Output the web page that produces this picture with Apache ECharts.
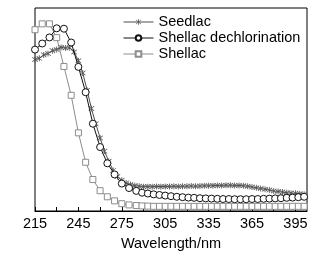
<!DOCTYPE html>
<html>
<head>
<meta charset="utf-8">
<script src="https://cdn.jsdelivr.net/npm/echarts@6/dist/echarts.min.js"></script>
<style>
html, body {margin: 0; padding: 0; background: #fff;}
#chart {width: 321px; height: 256px;}
</style>
</head>
<body>
<div id="chart"></div>
<script>
// 数据
var seedlacX = [215, 218, 221, 224, 227, 230, 233, 236, 239, 242, 245, 248, 251, 254, 257, 260, 263, 266, 269, 272,
    275, 278, 281, 284, 287, 290, 293, 296, 299, 302, 305, 308, 311, 314, 317, 320, 323, 326, 329, 332,
    335, 338, 341, 344, 347, 350, 353, 356, 359, 362, 365, 368, 371, 374, 377, 380, 383, 386, 389, 392,
    395, 398, 401];
var seedlacY = [74.6, 75.2, 76.9, 77.6, 79.0, 79.6, 80.6, 80.3, 80.4, 78.3, 74.0, 68.0, 59.5, 50.5, 43.0, 36.0, 29.5, 24.5, 20.0, 17.0,
    15.1, 13.8, 13.0, 12.5, 12.2, 12.0, 12.0, 12.0, 12.1, 12.0, 12.1, 12.1, 12.2, 12.1, 12.2, 12.2, 12.3, 12.2, 12.3, 12.4,
    12.4, 12.5, 12.6, 12.6, 12.7, 12.7, 12.6, 12.6, 12.4, 12.2, 11.8, 11.5, 11.1, 10.7, 10.3, 9.9, 9.6, 9.3, 9.0, 8.8,
    8.7, 8.5, 8.3];
var dechlorX = [215, 220, 225, 230, 235, 240, 245, 250, 255, 260, 265, 270, 275, 280, 285, 289, 293, 297, 301, 305,
    309, 313, 317, 321, 325, 329, 333, 337, 341, 345, 349, 353, 357, 361, 365, 369, 373, 377, 381, 385,
    389, 393, 397, 401];
var dechlorY = [79.5, 82.5, 85.5, 90.0, 89.8, 83.0, 71.0, 58.5, 43.0, 31.5, 23.5, 18.0, 13.5, 11.3, 9.9, 9.0, 8.6, 8.2, 7.9, 7.6,
    7.3, 7.0, 6.8, 6.6, 6.5, 6.3, 6.2, 6.1, 6.0, 5.9, 5.9, 5.8, 5.8, 5.8, 5.9, 5.9, 6.0, 6.1, 6.2, 6.3,
    6.5, 6.6, 6.8, 7.0];
var shellacX = [215, 220, 225, 230, 235, 240, 245, 250, 255, 260, 265, 270, 275, 280, 285, 289, 293, 297, 301, 305,
    309, 313, 317, 321, 325, 329, 333, 337, 341, 345, 349, 353, 357, 361, 365, 369, 373, 377, 381, 385,
    389, 393, 397, 401];
var shellacY = [89.3, 92.2, 92.2, 85.4, 71.2, 57.0, 38.5, 24.0, 15.5, 10.0, 7.0, 5.0, 3.6, 3.0, 2.7, 2.5, 2.4, 2.3, 2.3, 2.3,
    2.3, 2.3, 2.3, 2.3, 2.3, 2.3, 2.3, 2.3, 2.3, 2.3, 2.3, 2.3, 2.3, 2.3, 2.3, 2.3, 2.3, 2.3, 2.3, 2.3,
    2.3, 2.3, 2.3, 2.3];
var seriesNames = ['Seedlac', 'Shellac dechlorination', 'Shellac'];

function pairs(xs, ys) {
    var out = [];
    for (var i = 0; i < xs.length; i++) {
        out.push([xs[i], ys[i]]);
    }
    return out;
}

// 星号标记
var starSymbol = 'path://M4.4,0H5.6V10H4.4Z M0.8,1.6L1.6,0.8L9.2,8.4L8.4,9.2Z M8.4,0.8L9.2,1.6L1.6,9.2L0.8,8.4Z';
var font = 'Liberation Sans';

var myChart = echarts.init(document.getElementById('chart'));
var option = {
    animation: false,
    backgroundColor: '#fff',
    grid: {
        left: 35,
        top: 8,
        right: 14,
        bottom: 43,
        show: true,
        borderColor: '#000',
        borderWidth: 1
    },
    legend: {
        orient: 'vertical',
        left: 118,
        top: 9,
        itemWidth: 30,
        itemHeight: 7,
        itemGap: 0,
        lineStyle: {width: 1},
        textStyle: {fontFamily: font, fontSize: 14.5, color: '#000', lineHeight: 16},
        data: seriesNames
    },
    xAxis: {
        type: 'value',
        min: 215,
        max: 403,
        interval: 15,
        axisLine: {lineStyle: {color: '#000', width: 1}},
        axisTick: {inside: true, length: 4, lineStyle: {color: '#000'}},
        splitLine: {show: false},
        axisLabel: {
            fontFamily: font,
            fontSize: 14.5,
            color: '#000',
            margin: 5,
            showMaxLabel: false,
            formatter: function (v) {
                return (v - 215) % 30 === 0 ? String(v) : '';
            }
        },
        name: 'Wavelength/nm',
        nameLocation: 'middle',
        nameGap: 25,
        nameTextStyle: {fontFamily: font, fontSize: 14.5, color: '#000'}
    },
    yAxis: {
        type: 'value',
        min: 0,
        max: 100,
        axisLine: {show: false},
        axisTick: {show: false},
        axisLabel: {show: false},
        splitLine: {show: false}
    },
    series: [
        {
            name: seriesNames[0],
            type: 'line',
            data: pairs(seedlacX, seedlacY),
            symbol: starSymbol,
            symbolSize: 6,
            lineStyle: {color: '#4d4d4d', width: 1},
            itemStyle: {color: '#555'},
            z: 3
        },
        {
            name: seriesNames[1],
            type: 'line',
            data: pairs(dechlorX, dechlorY),
            symbol: 'circle',
            symbolSize: 7,
            lineStyle: {color: '#111', width: 1},
            itemStyle: {color: '#fff', borderColor: '#111', borderWidth: 1},
            z: 4
        },
        {
            name: seriesNames[2],
            type: 'line',
            data: pairs(shellacX, shellacY),
            symbol: 'rect',
            symbolSize: 6,
            lineStyle: {color: '#8c8c8c', width: 1},
            itemStyle: {color: '#fff', borderColor: '#8c8c8c', borderWidth: 1},
            z: 2
        }
    ]
};
myChart.setOption(option);
</script>
</body>
</html>
